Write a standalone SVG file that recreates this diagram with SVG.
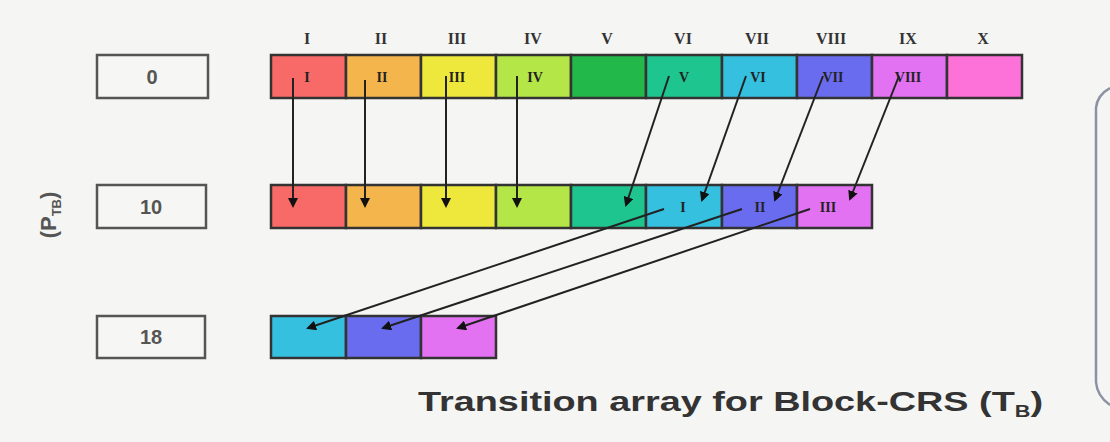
<svg xmlns="http://www.w3.org/2000/svg" width="1110" height="442" viewBox="0 0 1110 442">
<defs>
<marker id="ah" viewBox="0 0 10 10" refX="8" refY="5" markerWidth="5" markerHeight="5" orient="auto" markerUnits="strokeWidth">
<path d="M0,0 L10,5 L0,10 Z" fill="#111"/>
</marker>
<style>
.cell{stroke:#333;stroke-width:2.5}
.hdr{font-family:"Liberation Serif",serif;font-weight:bold;font-size:16px;fill:#333;text-anchor:middle}
.lbl{font-family:"Liberation Serif",serif;font-weight:bold;font-size:14px;fill:#222;text-anchor:middle}
.box{fill:#f6f6f4;stroke:#555;stroke-width:2.5}
.num{font-family:"Liberation Sans",sans-serif;font-weight:bold;font-size:20px;fill:#555;text-anchor:middle}
.cap{font-family:"Liberation Sans",sans-serif;font-weight:bold;font-size:28px;fill:#333}
.arr{stroke:#222;stroke-width:2;fill:none;marker-end:url(#ah)}
</style>
</defs>
<rect width="1110" height="442" fill="#f5f5f3"/>
<g id="headers">
<text class="hdr" x="307" y="44">I</text>
<text class="hdr" x="381" y="44">II</text>
<text class="hdr" x="457" y="44">III</text>
<text class="hdr" x="533" y="44">IV</text>
<text class="hdr" x="607" y="44">V</text>
<text class="hdr" x="683" y="44">VI</text>
<text class="hdr" x="757" y="44">VII</text>
<text class="hdr" x="831" y="44">VIII</text>
<text class="hdr" x="908" y="44">IX</text>
<text class="hdr" x="983" y="44">X</text>
</g>
<g id="ptr0"><rect class="box" x="97" y="55" width="111" height="43"/><text class="num" x="152" y="84">0</text></g>
<g id="ptr10"><rect class="box" x="97" y="185" width="109" height="43"/><text class="num" x="151" y="214">10</text></g>
<g id="ptr18"><rect class="box" x="97" y="316" width="108" height="42"/><text class="num" x="151" y="344">18</text></g>
<g id="ylabel"><text transform="translate(56,215) rotate(-90)" font-family="Liberation Sans,sans-serif" font-weight="bold" font-size="22" fill="#555" text-anchor="middle">(P<tspan font-size="13" dy="5">TB</tspan><tspan dy="-5">)</tspan></text></g>
<g id="row0">
<rect class="cell" x="271" y="55" width="75" height="43" fill="#f86a68"/>
<rect class="cell" x="346" y="55" width="75" height="43" fill="#f4b64c"/>
<rect class="cell" x="421" y="55" width="75" height="43" fill="#eee83c"/>
<rect class="cell" x="496" y="55" width="75" height="43" fill="#b3e646"/>
<rect class="cell" x="571" y="55" width="75" height="43" fill="#22b94a"/>
<rect class="cell" x="646" y="55" width="76" height="43" fill="#1ec58e"/>
<rect class="cell" x="722" y="55" width="75" height="43" fill="#36c0e0"/>
<rect class="cell" x="797" y="55" width="75" height="43" fill="#6a6cf0"/>
<rect class="cell" x="872" y="55" width="75" height="43" fill="#e272f2"/>
<rect class="cell" x="947" y="55" width="75" height="43" fill="#fd72d8"/>
<text class="lbl" x="307" y="82">I</text>
<text class="lbl" x="382" y="82">II</text>
<text class="lbl" x="457" y="82">III</text>
<text class="lbl" x="535" y="82">IV</text>
<text class="lbl" x="684" y="82">V</text>
<text class="lbl" x="758" y="82">VI</text>
<text class="lbl" x="833" y="82">VII</text>
<text class="lbl" x="908" y="82">VIII</text>
</g>
<g id="row10">
<rect class="cell" x="271" y="185" width="75" height="43" fill="#f86a68"/>
<rect class="cell" x="346" y="185" width="75" height="43" fill="#f4b64c"/>
<rect class="cell" x="421" y="185" width="75" height="43" fill="#eee83c"/>
<rect class="cell" x="496" y="185" width="75" height="43" fill="#b3e646"/>
<rect class="cell" x="571" y="185" width="75" height="43" fill="#1ec58e"/>
<rect class="cell" x="646" y="185" width="76" height="43" fill="#36c0e0"/>
<rect class="cell" x="722" y="185" width="75" height="43" fill="#6a6cf0"/>
<rect class="cell" x="797" y="185" width="75" height="43" fill="#e272f2"/>
<text class="lbl" x="683" y="212">I</text>
<text class="lbl" x="760" y="212">II</text>
<text class="lbl" x="828" y="212">III</text>
</g>
<g id="row18">
<rect class="cell" x="271" y="316" width="75" height="42" fill="#36c0e0"/>
<rect class="cell" x="346" y="316" width="75" height="42" fill="#6a6cf0"/>
<rect class="cell" x="421" y="316" width="75" height="42" fill="#e272f2"/>
</g>
<g id="connectors">
<line class="arr" x1="293" y1="78" x2="293" y2="206"/>
<line class="arr" x1="365" y1="80" x2="365" y2="206"/>
<line class="arr" x1="446" y1="76" x2="446" y2="206"/>
<line class="arr" x1="517" y1="76" x2="517" y2="206"/>
<line class="arr" x1="669" y1="76" x2="626" y2="205"/>
<line class="arr" x1="746" y1="76" x2="702" y2="200"/>
<line class="arr" x1="823" y1="76" x2="775" y2="200"/>
<line class="arr" x1="899" y1="76" x2="850" y2="199"/>
<line class="arr" x1="664" y1="209" x2="308" y2="328"/>
<line class="arr" x1="742" y1="209" x2="383" y2="328"/>
<line class="arr" x1="810" y1="209" x2="458" y2="328"/>
</g>
<g id="caption"><text class="cap" x="418" y="411" textLength="625" lengthAdjust="spacingAndGlyphs">Transition array for Block-CRS (T<tspan font-size="16" dy="6">B</tspan><tspan dy="-6">)</tspan></text></g>
<g id="panel"><path d="M1110,88 Q1097,95 1096,108 L1096,382 Q1097,396 1110,405" fill="none" stroke="#8c92a4" stroke-width="2.5"/></g>
</svg>
